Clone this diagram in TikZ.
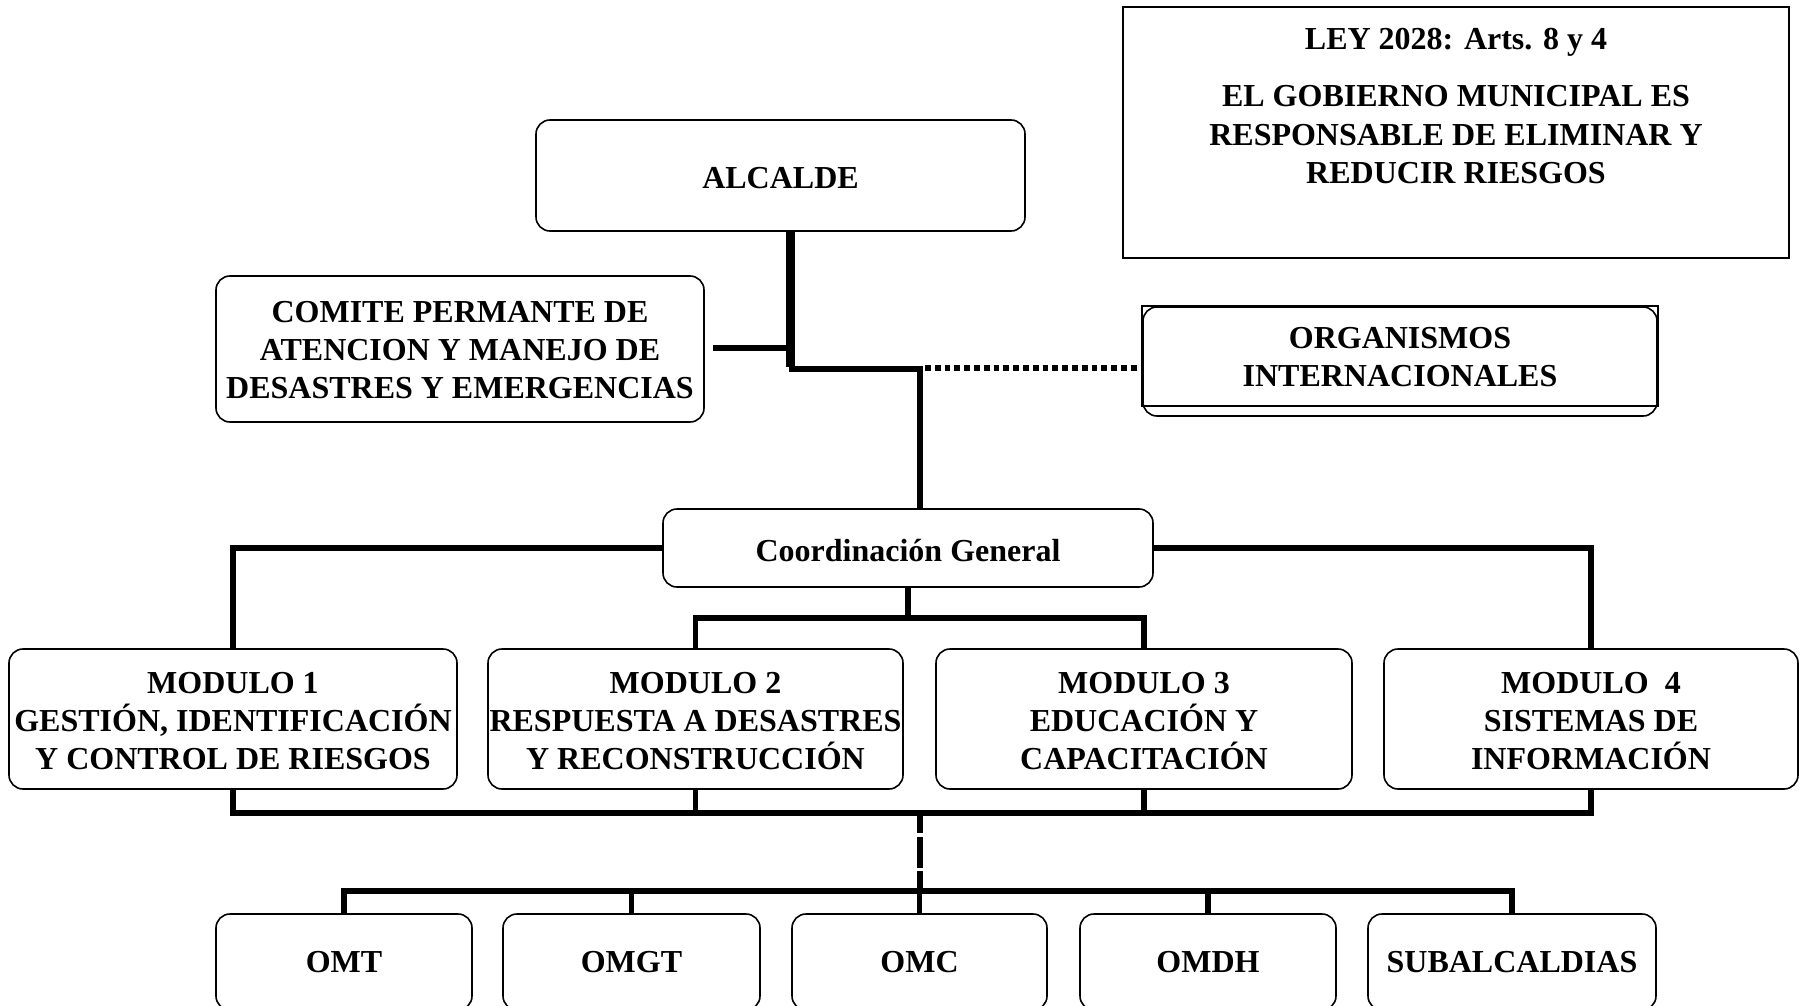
\documentclass[tikz,border=0pt]{standalone}
\usepackage{fontspec}
\setmainfont{Liberation Serif}
\usetikzlibrary{calc}
\begin{document}
\begin{tikzpicture}[x=1pt,y=-1pt,
  txt/.style={font=\fontsize{32}{38}\selectfont\bfseries},
  box/.style={draw,rounded corners=14pt,line width=1.6pt,inner sep=0pt,align=center,txt},
  conn/.style={line width=5.3pt,line join=miter}]
\useasboundingbox (0,0) rectangle (1799,1006);

% law box
\node[draw,line width=2pt,minimum width=666pt,minimum height=251pt,inner sep=0pt] (ley) at (1456,132.5) {};
\node[font=\fontsize{32}{38.5}\selectfont\bfseries,align=center,anchor=north,inner sep=0pt] (leytxt) at (1456,28)
  {LEY 2028: Arts. 8 y 4\\[19pt]EL GOBIERNO MUNICIPAL ES\\RESPONSABLE DE ELIMINAR Y\\REDUCIR RIESGOS};

% top level
\node[box,minimum width=489pt,minimum height=111pt] (alc) at (780.5,175.5) {\rule{0pt}{26.5pt}ALCALDE};
\node[box,minimum width=488pt,minimum height=146pt] (com) at (460,349)
  {\rule{0pt}{23.5pt}COMITE PERMANTE DE\\ATENCION Y MANEJO DE\\DESASTRES Y EMERGENCIAS};
\node[box,minimum width=514pt,minimum height=109pt] (org) at (1400,361.5)
  {ORGANISMOS\\INTERNACIONALES\rule[-9pt]{0pt}{1pt}};
\draw[line width=1.6pt] (org.north west) rectangle ($(org.south east)+(0,-11)$);

\node[box,minimum width=490pt,minimum height=78pt] (cg) at (908,548) {\rule{0pt}{27pt}Coordinación General};

% modules
\node[box,minimum width=448pt,minimum height=140pt] (m1) at (233,719)
  {\rule{0pt}{26pt}MODULO 1\\GESTIÓN, IDENTIFICACIÓN\\Y CONTROL DE RIESGOS};
\node[box,minimum width=415pt,minimum height=140pt] (m2) at (695.5,719)
  {\rule{0pt}{26pt}MODULO 2\\RESPUESTA A DESASTRES\\Y RECONSTRUCCIÓN};
\node[box,minimum width=416pt,minimum height=140pt] (m3) at (1144,719)
  {\rule{0pt}{26pt}MODULO 3\\EDUCACIÓN Y\\CAPACITACIÓN};
\node[box,minimum width=414pt,minimum height=140pt] (m4) at (1591,719)
  {\rule{0pt}{26pt}MODULO\ \ 4\\SISTEMAS DE\\INFORMACIÓN};

% offices
\node[box,minimum width=256pt,minimum height=96pt] (omt) at (344,962) {OMT};
\node[box,minimum width=257pt,minimum height=96pt] (omgt) at (631.5,962) {OMGT};
\node[box,minimum width=255pt,minimum height=96pt] (omc) at (919.5,962) {OMC};
\node[box,minimum width=256pt,minimum height=96pt] (omdh) at (1208,962) {OMDH};
\node[box,minimum width=288pt,minimum height=96pt] (sub) at (1512,962) {SUBALCALDIAS};

% helper coordinates
\coordinate (a1) at (790,231);
\coordinate (h1a) at (0,367);
\coordinate (hc) at (0,348);
\coordinate (h1) at (0,369);
\coordinate (j1) at (920,369);
\coordinate (d1) at (925,368);
\coordinate (y618) at (0,618);
\coordinate (y813) at (0,813);
\coordinate (y891) at (0,891);

% connectors from the mayor
\draw[line width=9pt] (alc.south -| a1) -- (a1 |- h1a);
\draw[conn] ($(com.east |- hc)+(8,0)$) -- (a1 |- hc);
\draw[conn,line width=6pt] ($(a1 |- h1)+(-1,0)$) -- (j1) -- (j1 |- cg.north);
\draw[line width=6pt,dash pattern=on 5.8pt off 4pt] (d1) -- (org.west |- d1);

% coordination to modules
\draw[conn] (cg.west) -- (cg.west -| m1.north) -- (m1.north);
\draw[conn] (cg.east) -- (cg.east -| m4.north) -- (m4.north);
\draw[conn] (cg.south) -- (cg.south |- y618);
\draw[conn] (m2.north) -- (m2.north |- y618) -- (m3.north |- y618) -- (m3.north);

% modules to offices
\draw[conn] (m1.south) -- (m1.south |- y813) -- (m4.south |- y813) -- (m4.south);
\draw[conn] (m2.south) -- (m2.south |- y813);
\draw[conn] (m3.south) -- (m3.south |- y813);
\draw[line width=6pt,dash pattern=on 20pt off 4pt on 31pt off 3pt on 60pt] (omc.north |- y813) -- (omc.north |- y891);
\draw[conn] (omt.north) -- (omt.north |- y891) -- (sub.north |- y891) -- (sub.north);
\draw[conn] (omgt.north) -- (omgt.north |- y891);
\draw[conn] (omc.north) -- (omc.north |- y891);
\draw[conn] (omdh.north) -- (omdh.north |- y891);
\end{tikzpicture}
\end{document}
